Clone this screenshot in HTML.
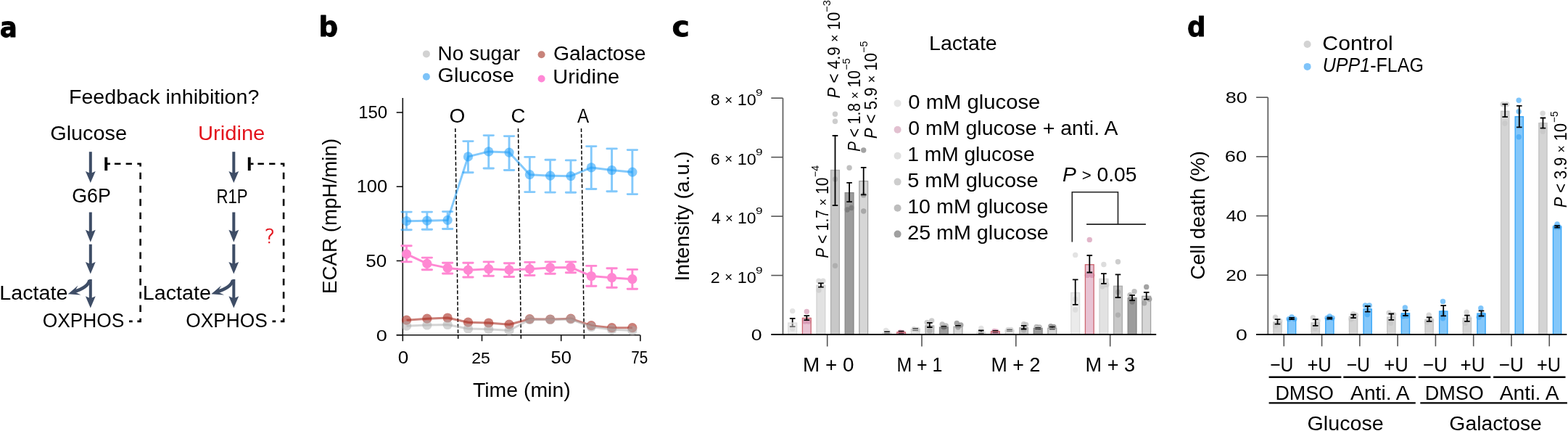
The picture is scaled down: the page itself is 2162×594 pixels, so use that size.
<!DOCTYPE html>
<html><head><meta charset="utf-8"><title>Figure</title>
<style>html,body{margin:0;padding:0;background:#fff;overflow:hidden;} svg{display:block;}
svg.iso *{visibility:hidden} svg.iso .tgt, svg.iso .tgt *{visibility:visible}</style></head>
<body><svg id="fig" width="2162" height="594" viewBox="0 0 2162 594">
<rect width="2162" height="594" fill="#fff"/>
<text id="la" transform="translate(-0.21,50.60) scale(0.9158,1)" font-family="'DejaVu Sans', sans-serif" font-size="39" font-weight="bold" font-style="normal" fill="#000" stroke="#000" stroke-width="0.8" stroke-linejoin="round">a</text>
<text id="lb" transform="translate(439.51,50.30) scale(1.0063,1)" font-family="'DejaVu Sans', sans-serif" font-size="37" font-weight="bold" font-style="normal" fill="#000" stroke="#000" stroke-width="0.8" stroke-linejoin="round">b</text>
<text id="lc" transform="translate(926.40,50.40) scale(1.0525,1)" font-family="'DejaVu Sans', sans-serif" font-size="39" font-weight="bold" font-style="normal" fill="#000" stroke="#000" stroke-width="0.8" stroke-linejoin="round">c</text>
<text id="ld" transform="translate(1637.03,50.30) scale(0.9672,1)" font-family="'DejaVu Sans', sans-serif" font-size="37" font-weight="bold" font-style="normal" fill="#000" stroke="#000" stroke-width="0.8" stroke-linejoin="round">d</text>
<text id="fb" transform="translate(94.94,142.50) scale(1.0220,1)" font-family="'Liberation Sans', Arial, sans-serif" font-size="28" font-weight="normal" font-style="normal" fill="#000">Feedback inhibition?</text>
<text id="ga" transform="translate(69.16,193.30) scale(1.0320,1)" font-family="'Liberation Sans', Arial, sans-serif" font-size="28" font-weight="normal" font-style="normal" fill="#000">Glucose</text>
<text id="ua" transform="translate(272.95,193.30) scale(1.0419,1)" font-family="'Liberation Sans', Arial, sans-serif" font-size="28" font-weight="normal" font-style="normal" fill="#e3141d">Uridine</text>
<text id="g6p" transform="translate(99.23,279.40) scale(0.9565,1)" font-family="'Liberation Sans', Arial, sans-serif" font-size="28" font-weight="normal" font-style="normal" fill="#000">G6P</text>
<text id="r1p" transform="translate(298.43,279.70) scale(0.7924,1)" font-family="'Liberation Sans', Arial, sans-serif" font-size="28" font-weight="normal" font-style="normal" fill="#000">R1P</text>
<text id="lac1" transform="translate(-0.78,412.90) scale(1.0253,1)" font-family="'Liberation Sans', Arial, sans-serif" font-size="28" font-weight="normal" font-style="normal" fill="#000">Lactate</text>
<text id="lac2" transform="translate(196.74,412.90) scale(1.0249,1)" font-family="'Liberation Sans', Arial, sans-serif" font-size="28" font-weight="normal" font-style="normal" fill="#000">Lactate</text>
<text id="ox1" transform="translate(58.69,451.40) scale(0.9402,1)" font-family="'Liberation Sans', Arial, sans-serif" font-size="28" font-weight="normal" font-style="normal" fill="#000">OXPHOS</text>
<text id="ox2" transform="translate(256.17,451.40) scale(0.9402,1)" font-family="'Liberation Sans', Arial, sans-serif" font-size="28" font-weight="normal" font-style="normal" fill="#000">OXPHOS</text>
<text id="q" transform="translate(364.72,334.60) scale(1.0021,1)" font-family="'DejaVu Sans', sans-serif" font-size="27" font-weight="200" font-style="normal" fill="#e3141d" stroke="#e3141d" stroke-width="0.7">?</text>
<rect x="122.80" y="209.20" width="4.0" height="30.20" fill="#3e4d66"/>
<polygon points="124.80,252.10 117.90,235.90 124.80,238.90 131.70,235.90" fill="#3e4d66"/>
<rect x="122.80" y="292.50" width="4.0" height="27.80" fill="#3e4d66"/>
<polygon points="124.80,333.70 117.90,316.80 124.80,319.80 131.70,316.80" fill="#3e4d66"/>
<rect x="122.80" y="336.70" width="4.0" height="27.70" fill="#3e4d66"/>
<polygon points="124.80,377.50 117.90,360.90 124.80,363.90 131.70,360.90" fill="#3e4d66"/>
<rect x="122.80" y="384.90" width="4.0" height="26.90" fill="#3e4d66"/>
<polygon points="124.80,424.50 117.90,408.30 124.80,411.30 131.70,408.30" fill="#3e4d66"/>
<path d="M123.60,386 C121.80,394 112.80,399 100.80,402.5" fill="none" stroke="#3e4d66" stroke-width="4.6"/>
<polygon points="93.80,405.20 107.50,393.60 102.80,402.30 111.60,406.50" fill="#3e4d66"/>
<rect x="144.30" y="216.7" width="3.9" height="18.4" fill="#000"/>
<line x1="148.00" y1="225.80" x2="152.00" y2="225.80" stroke="#000" stroke-width="2.6" stroke-linecap="butt"/>
<path d="M157.90,225.8 H166.40 M173.60,225.8 H181.90 M189.30,225.8 H193.60 V229.5 M193.60,237.80 V247.10 M193.60,256.08 V265.38 M193.60,274.36 V283.66 M193.60,292.64 V301.94 M193.60,310.92 V320.22 M193.60,329.20 V338.50 M193.60,347.48 V356.78 M193.60,365.76 V375.06 M193.60,384.04 V393.34 M193.60,402.32 V411.62 M193.60,420.60 V429.90 M193.60,438.7 V442.9 H189.40 M178.00,442.9 H182.70" fill="none" stroke="#000" stroke-width="2.6" stroke-linejoin="miter"/>
<rect x="320.30" y="209.20" width="4.0" height="30.20" fill="#3e4d66"/>
<polygon points="322.30,252.10 315.40,235.90 322.30,238.90 329.20,235.90" fill="#3e4d66"/>
<rect x="320.30" y="292.50" width="4.0" height="27.80" fill="#3e4d66"/>
<polygon points="322.30,333.70 315.40,316.80 322.30,319.80 329.20,316.80" fill="#3e4d66"/>
<rect x="320.30" y="336.70" width="4.0" height="27.70" fill="#3e4d66"/>
<polygon points="322.30,377.50 315.40,360.90 322.30,363.90 329.20,360.90" fill="#3e4d66"/>
<rect x="320.30" y="384.90" width="4.0" height="26.90" fill="#3e4d66"/>
<polygon points="322.30,424.50 315.40,408.30 322.30,411.30 329.20,408.30" fill="#3e4d66"/>
<path d="M321.10,386 C319.30,394 310.30,399 298.30,402.5" fill="none" stroke="#3e4d66" stroke-width="4.6"/>
<polygon points="291.30,405.20 305.00,393.60 300.30,402.30 309.10,406.50" fill="#3e4d66"/>
<rect x="341.80" y="216.7" width="3.9" height="18.4" fill="#000"/>
<line x1="345.50" y1="225.80" x2="349.50" y2="225.80" stroke="#000" stroke-width="2.6" stroke-linecap="butt"/>
<path d="M355.40,225.8 H363.90 M371.10,225.8 H379.40 M386.80,225.8 H391.10 V229.5 M391.10,237.80 V247.10 M391.10,256.08 V265.38 M391.10,274.36 V283.66 M391.10,292.64 V301.94 M391.10,310.92 V320.22 M391.10,329.20 V338.50 M391.10,347.48 V356.78 M391.10,365.76 V375.06 M391.10,384.04 V393.34 M391.10,402.32 V411.62 M391.10,420.60 V429.90 M391.10,438.7 V442.9 H386.90 M375.50,442.9 H380.20" fill="none" stroke="#000" stroke-width="2.6" stroke-linejoin="miter"/>
<line x1="555.30" y1="135.00" x2="555.30" y2="461.70" stroke="#111" stroke-width="1.6" stroke-linecap="butt"/>
<line x1="546.70" y1="461.70" x2="882.60" y2="461.70" stroke="#111" stroke-width="1.6" stroke-linecap="butt"/>
<line x1="546.70" y1="154.99" x2="555.30" y2="154.99" stroke="#111" stroke-width="1.6" stroke-linecap="butt"/>
<line x1="546.70" y1="257.23" x2="555.30" y2="257.23" stroke="#111" stroke-width="1.6" stroke-linecap="butt"/>
<line x1="546.70" y1="359.46" x2="555.30" y2="359.46" stroke="#111" stroke-width="1.6" stroke-linecap="butt"/>
<line x1="546.70" y1="461.70" x2="555.30" y2="461.70" stroke="#111" stroke-width="1.6" stroke-linecap="butt"/>
<line x1="555.30" y1="461.70" x2="555.30" y2="470.20" stroke="#111" stroke-width="1.6" stroke-linecap="butt"/>
<line x1="664.50" y1="461.70" x2="664.50" y2="470.20" stroke="#111" stroke-width="1.6" stroke-linecap="butt"/>
<line x1="773.70" y1="461.70" x2="773.70" y2="470.20" stroke="#111" stroke-width="1.6" stroke-linecap="butt"/>
<line x1="882.90" y1="461.70" x2="882.90" y2="470.20" stroke="#111" stroke-width="1.6" stroke-linecap="butt"/>
<text id="b150" transform="translate(494.13,163.20) scale(1.0448,1)" font-family="'Liberation Sans', Arial, sans-serif" font-size="23" font-weight="normal" font-style="normal" fill="#000">150</text>
<text id="b100" transform="translate(491.66,265.40) scale(1.1068,1)" font-family="'Liberation Sans', Arial, sans-serif" font-size="23" font-weight="normal" font-style="normal" fill="#000">100</text>
<text id="b50" transform="translate(504.34,367.70) scale(1.1318,1)" font-family="'Liberation Sans', Arial, sans-serif" font-size="23" font-weight="normal" font-style="normal" fill="#000">50</text>
<text id="b0" transform="translate(518.82,469.90) scale(1.1818,1)" font-family="'Liberation Sans', Arial, sans-serif" font-size="23" font-weight="normal" font-style="normal" fill="#000">0</text>
<text id="bx0" transform="translate(548.66,501.10) scale(1.1356,1)" font-family="'Liberation Sans', Arial, sans-serif" font-size="23" font-weight="normal" font-style="normal" fill="#000">0</text>
<text id="bx25" transform="translate(650.14,501.10) scale(1.0050,1)" font-family="'Liberation Sans', Arial, sans-serif" font-size="23" font-weight="normal" font-style="normal" fill="#000">25</text>
<text id="bx50" transform="translate(759.59,501.10) scale(1.1113,1)" font-family="'Liberation Sans', Arial, sans-serif" font-size="23" font-weight="normal" font-style="normal" fill="#000">50</text>
<text id="bx75" transform="translate(870.30,501.10) scale(0.8997,1)" font-family="'Liberation Sans', Arial, sans-serif" font-size="23" font-weight="normal" font-style="normal" fill="#000">75</text>
<text id="ecar" transform="translate(464.00,404.98) rotate(-90) scale(0.9906,1)" font-family="'Liberation Sans', Arial, sans-serif" font-size="28" font-weight="normal" font-style="normal" fill="#000">ECAR (mpH/min)</text>
<text id="time" transform="translate(651.98,546.70) scale(1.0154,1)" font-family="'Liberation Sans', Arial, sans-serif" font-size="28" font-weight="normal" font-style="normal" fill="#000">Time (min)</text>
<text id="bO" transform="translate(619.46,169.00) scale(1.0025,1)" font-family="'Liberation Sans', Arial, sans-serif" font-size="28" font-weight="normal" font-style="normal" fill="#000">O</text>
<text id="bC" transform="translate(704.44,169.00) scale(0.9863,1)" font-family="'Liberation Sans', Arial, sans-serif" font-size="28" font-weight="normal" font-style="normal" fill="#000">C</text>
<text id="bA" transform="translate(796.00,169.00) scale(0.8654,1)" font-family="'Liberation Sans', Arial, sans-serif" font-size="28" font-weight="normal" font-style="normal" fill="#000">A</text>
<circle cx="587.90" cy="74.40" r="5" fill="#d2d2d2"/>
<circle cx="587.90" cy="105.70" r="5" fill="#7dc3f8"/>
<circle cx="746.60" cy="75.20" r="5" fill="#c8837a"/>
<circle cx="746.60" cy="108.50" r="5" fill="#ff88d6"/>
<text id="lns" transform="translate(603.60,82.50) scale(0.9983,1)" font-family="'Liberation Sans', Arial, sans-serif" font-size="28" font-weight="normal" font-style="normal" fill="#000">No sugar</text>
<text id="lgl" transform="translate(603.55,112.60) scale(1.0260,1)" font-family="'Liberation Sans', Arial, sans-serif" font-size="28" font-weight="normal" font-style="normal" fill="#000">Glucose</text>
<text id="lga" transform="translate(762.89,82.50) scale(1.0129,1)" font-family="'Liberation Sans', Arial, sans-serif" font-size="28" font-weight="normal" font-style="normal" fill="#000">Galactose</text>
<text id="lur" transform="translate(762.30,115.30) scale(1.0358,1)" font-family="'Liberation Sans', Arial, sans-serif" font-size="28" font-weight="normal" font-style="normal" fill="#000">Uridine</text>
<line x1="627.80" y1="177.00" x2="631.70" y2="468.00" stroke="#000" stroke-width="1.5" stroke-dasharray="5,2.7" stroke-linecap="butt"/>
<line x1="714.50" y1="177.00" x2="718.40" y2="468.00" stroke="#000" stroke-width="1.5" stroke-dasharray="5,2.7" stroke-linecap="butt"/>
<line x1="801.50" y1="177.00" x2="805.40" y2="468.00" stroke="#000" stroke-width="1.5" stroke-dasharray="5,2.7" stroke-linecap="butt"/>
<polyline points="560.54,441.20 588.85,439.20 617.15,438.00 645.46,444.20 673.76,445.00 702.06,447.20 730.37,439.70 758.67,440.00 786.98,439.20 815.28,448.70 843.59,451.70 871.89,451.70" fill="none" stroke="#a82a1e" stroke-width="3.0" stroke-opacity="0.6" stroke-linejoin="round"/>
<circle cx="560.54" cy="441.20" r="6.6" fill="#a82a1e" fill-opacity="0.6"/>
<circle cx="588.85" cy="439.20" r="6.6" fill="#a82a1e" fill-opacity="0.6"/>
<circle cx="617.15" cy="438.00" r="6.6" fill="#a82a1e" fill-opacity="0.6"/>
<circle cx="645.46" cy="444.20" r="6.6" fill="#a82a1e" fill-opacity="0.6"/>
<circle cx="673.76" cy="445.00" r="6.6" fill="#a82a1e" fill-opacity="0.6"/>
<circle cx="702.06" cy="447.20" r="6.6" fill="#a82a1e" fill-opacity="0.6"/>
<circle cx="730.37" cy="439.70" r="6.6" fill="#a82a1e" fill-opacity="0.6"/>
<circle cx="758.67" cy="440.00" r="6.6" fill="#a82a1e" fill-opacity="0.6"/>
<circle cx="786.98" cy="439.20" r="6.6" fill="#a82a1e" fill-opacity="0.6"/>
<circle cx="815.28" cy="448.70" r="6.6" fill="#a82a1e" fill-opacity="0.6"/>
<circle cx="843.59" cy="451.70" r="6.6" fill="#a82a1e" fill-opacity="0.6"/>
<circle cx="871.89" cy="451.70" r="6.6" fill="#a82a1e" fill-opacity="0.6"/>
<polyline points="560.54,449.20 588.85,448.00 617.15,447.50 645.46,453.00 673.76,453.70 702.06,455.50 730.37,440.50 758.67,440.50 786.98,440.00 815.28,450.50 843.59,454.30 871.89,455.50" fill="none" stroke="#aaaaaa" stroke-width="3.0" stroke-opacity="0.5" stroke-linejoin="round"/>
<circle cx="560.54" cy="449.20" r="6.6" fill="#aaaaaa" fill-opacity="0.5"/>
<circle cx="588.85" cy="448.00" r="6.6" fill="#aaaaaa" fill-opacity="0.5"/>
<circle cx="617.15" cy="447.50" r="6.6" fill="#aaaaaa" fill-opacity="0.5"/>
<circle cx="645.46" cy="453.00" r="6.6" fill="#aaaaaa" fill-opacity="0.5"/>
<circle cx="673.76" cy="453.70" r="6.6" fill="#aaaaaa" fill-opacity="0.5"/>
<circle cx="702.06" cy="455.50" r="6.6" fill="#aaaaaa" fill-opacity="0.5"/>
<circle cx="730.37" cy="440.50" r="6.6" fill="#aaaaaa" fill-opacity="0.5"/>
<circle cx="758.67" cy="440.50" r="6.6" fill="#aaaaaa" fill-opacity="0.5"/>
<circle cx="786.98" cy="440.00" r="6.6" fill="#aaaaaa" fill-opacity="0.5"/>
<circle cx="815.28" cy="450.50" r="6.6" fill="#aaaaaa" fill-opacity="0.5"/>
<circle cx="843.59" cy="454.30" r="6.6" fill="#aaaaaa" fill-opacity="0.5"/>
<circle cx="871.89" cy="455.50" r="6.6" fill="#aaaaaa" fill-opacity="0.5"/>
<polyline points="560.54,304.70 588.85,304.20 617.15,303.40 645.46,215.90 673.76,208.90 702.06,210.10 730.37,240.70 758.67,242.20 786.98,242.70 815.28,230.90 843.59,234.50 871.89,237.20" fill="none" stroke="#1e9cf8" stroke-width="3.0" stroke-opacity="0.55" stroke-linejoin="round"/>
<path d="M553.84,292.10 H567.24 M560.54,292.10 V316.70 M553.84,316.70 H567.24" fill="none" stroke="#1e9cf8" stroke-width="2.9" stroke-opacity="0.55" stroke-linecap="round"/>
<path d="M582.15,292.10 H595.55 M588.85,292.10 V316.20 M582.15,316.20 H595.55" fill="none" stroke="#1e9cf8" stroke-width="2.9" stroke-opacity="0.55" stroke-linecap="round"/>
<path d="M610.45,291.60 H623.85 M617.15,291.60 V315.50 M610.45,315.50 H623.85" fill="none" stroke="#1e9cf8" stroke-width="2.9" stroke-opacity="0.55" stroke-linecap="round"/>
<path d="M638.76,194.60 H652.16 M645.46,194.60 V237.70 M638.76,237.70 H652.16" fill="none" stroke="#1e9cf8" stroke-width="2.9" stroke-opacity="0.55" stroke-linecap="round"/>
<path d="M667.06,186.60 H680.46 M673.76,186.60 V232.00 M667.06,232.00 H680.46" fill="none" stroke="#1e9cf8" stroke-width="2.9" stroke-opacity="0.55" stroke-linecap="round"/>
<path d="M695.36,187.60 H708.76 M702.06,187.60 V234.50 M695.36,234.50 H708.76" fill="none" stroke="#1e9cf8" stroke-width="2.9" stroke-opacity="0.55" stroke-linecap="round"/>
<path d="M723.67,216.40 H737.07 M730.37,216.40 V264.60 M723.67,264.60 H737.07" fill="none" stroke="#1e9cf8" stroke-width="2.9" stroke-opacity="0.55" stroke-linecap="round"/>
<path d="M751.97,220.20 H765.37 M758.67,220.20 V265.10 M751.97,265.10 H765.37" fill="none" stroke="#1e9cf8" stroke-width="2.9" stroke-opacity="0.55" stroke-linecap="round"/>
<path d="M780.28,220.90 H793.68 M786.98,220.90 V265.30 M780.28,265.30 H793.68" fill="none" stroke="#1e9cf8" stroke-width="2.9" stroke-opacity="0.55" stroke-linecap="round"/>
<path d="M808.58,201.60 H821.98 M815.28,201.60 V260.50 M808.58,260.50 H821.98" fill="none" stroke="#1e9cf8" stroke-width="2.9" stroke-opacity="0.55" stroke-linecap="round"/>
<path d="M836.89,204.90 H850.29 M843.59,204.90 V263.80 M836.89,263.80 H850.29" fill="none" stroke="#1e9cf8" stroke-width="2.9" stroke-opacity="0.55" stroke-linecap="round"/>
<path d="M865.19,206.60 H878.59 M871.89,206.60 V267.60 M865.19,267.60 H878.59" fill="none" stroke="#1e9cf8" stroke-width="2.9" stroke-opacity="0.55" stroke-linecap="round"/>
<circle cx="560.54" cy="304.70" r="6.6" fill="#1e9cf8" fill-opacity="0.55"/>
<circle cx="588.85" cy="304.20" r="6.6" fill="#1e9cf8" fill-opacity="0.55"/>
<circle cx="617.15" cy="303.40" r="6.6" fill="#1e9cf8" fill-opacity="0.55"/>
<circle cx="645.46" cy="215.90" r="6.6" fill="#1e9cf8" fill-opacity="0.55"/>
<circle cx="673.76" cy="208.90" r="6.6" fill="#1e9cf8" fill-opacity="0.55"/>
<circle cx="702.06" cy="210.10" r="6.6" fill="#1e9cf8" fill-opacity="0.55"/>
<circle cx="730.37" cy="240.70" r="6.6" fill="#1e9cf8" fill-opacity="0.55"/>
<circle cx="758.67" cy="242.20" r="6.6" fill="#1e9cf8" fill-opacity="0.55"/>
<circle cx="786.98" cy="242.70" r="6.6" fill="#1e9cf8" fill-opacity="0.55"/>
<circle cx="815.28" cy="230.90" r="6.6" fill="#1e9cf8" fill-opacity="0.55"/>
<circle cx="843.59" cy="234.50" r="6.6" fill="#1e9cf8" fill-opacity="0.55"/>
<circle cx="871.89" cy="237.20" r="6.6" fill="#1e9cf8" fill-opacity="0.55"/>
<polyline points="560.54,350.10 588.85,363.40 617.15,369.40 645.46,372.20 673.76,370.70 702.06,371.90 730.37,370.70 758.67,368.90 786.98,368.40 815.28,380.50 843.59,382.70 871.89,384.70" fill="none" stroke="#ff87d2" stroke-width="3.0" stroke-opacity="1.0" stroke-linejoin="round"/>
<path d="M553.84,338.80 H567.24 M560.54,338.80 V360.90 M553.84,360.90 H567.24" fill="none" stroke="#ff87d2" stroke-width="2.9" stroke-opacity="1.0" stroke-linecap="round"/>
<path d="M582.15,355.10 H595.55 M588.85,355.10 V371.70 M582.15,371.70 H595.55" fill="none" stroke="#ff87d2" stroke-width="2.9" stroke-opacity="1.0" stroke-linecap="round"/>
<path d="M610.45,362.20 H623.85 M617.15,362.20 V377.00 M610.45,377.00 H623.85" fill="none" stroke="#ff87d2" stroke-width="2.9" stroke-opacity="1.0" stroke-linecap="round"/>
<path d="M638.76,362.20 H652.16 M645.46,362.20 V382.00 M638.76,382.00 H652.16" fill="none" stroke="#ff87d2" stroke-width="2.9" stroke-opacity="1.0" stroke-linecap="round"/>
<path d="M667.06,360.90 H680.46 M673.76,360.90 V380.20 M667.06,380.20 H680.46" fill="none" stroke="#ff87d2" stroke-width="2.9" stroke-opacity="1.0" stroke-linecap="round"/>
<path d="M695.36,362.70 H708.76 M702.06,362.70 V381.50 M695.36,381.50 H708.76" fill="none" stroke="#ff87d2" stroke-width="2.9" stroke-opacity="1.0" stroke-linecap="round"/>
<path d="M723.67,361.40 H737.07 M730.37,361.40 V379.50 M723.67,379.50 H737.07" fill="none" stroke="#ff87d2" stroke-width="2.9" stroke-opacity="1.0" stroke-linecap="round"/>
<path d="M751.97,360.90 H765.37 M758.67,360.90 V377.20 M751.97,377.20 H765.37" fill="none" stroke="#ff87d2" stroke-width="2.9" stroke-opacity="1.0" stroke-linecap="round"/>
<path d="M780.28,360.90 H793.68 M786.98,360.90 V375.70 M780.28,375.70 H793.68" fill="none" stroke="#ff87d2" stroke-width="2.9" stroke-opacity="1.0" stroke-linecap="round"/>
<path d="M808.58,366.40 H821.98 M815.28,366.40 V394.30 M808.58,394.30 H821.98" fill="none" stroke="#ff87d2" stroke-width="2.9" stroke-opacity="1.0" stroke-linecap="round"/>
<path d="M836.89,369.70 H850.29 M843.59,369.70 V396.30 M836.89,396.30 H850.29" fill="none" stroke="#ff87d2" stroke-width="2.9" stroke-opacity="1.0" stroke-linecap="round"/>
<path d="M865.19,371.40 H878.59 M871.89,371.40 V398.30 M865.19,398.30 H878.59" fill="none" stroke="#ff87d2" stroke-width="2.9" stroke-opacity="1.0" stroke-linecap="round"/>
<circle cx="560.54" cy="350.10" r="6.6" fill="#ff87d2" fill-opacity="1.0"/>
<circle cx="588.85" cy="363.40" r="6.6" fill="#ff87d2" fill-opacity="1.0"/>
<circle cx="617.15" cy="369.40" r="6.6" fill="#ff87d2" fill-opacity="1.0"/>
<circle cx="645.46" cy="372.20" r="6.6" fill="#ff87d2" fill-opacity="1.0"/>
<circle cx="673.76" cy="370.70" r="6.6" fill="#ff87d2" fill-opacity="1.0"/>
<circle cx="702.06" cy="371.90" r="6.6" fill="#ff87d2" fill-opacity="1.0"/>
<circle cx="730.37" cy="370.70" r="6.6" fill="#ff87d2" fill-opacity="1.0"/>
<circle cx="758.67" cy="368.90" r="6.6" fill="#ff87d2" fill-opacity="1.0"/>
<circle cx="786.98" cy="368.40" r="6.6" fill="#ff87d2" fill-opacity="1.0"/>
<circle cx="815.28" cy="380.50" r="6.6" fill="#ff87d2" fill-opacity="1.0"/>
<circle cx="843.59" cy="382.70" r="6.6" fill="#ff87d2" fill-opacity="1.0"/>
<circle cx="871.89" cy="384.70" r="6.6" fill="#ff87d2" fill-opacity="1.0"/>
<line x1="1079.50" y1="135.20" x2="1079.50" y2="461.00" stroke="#555" stroke-width="1.6" stroke-linecap="butt"/>
<line x1="1063.30" y1="135.20" x2="1079.50" y2="135.20" stroke="#555" stroke-width="1.6" stroke-linecap="butt"/>
<line x1="1063.30" y1="216.65" x2="1079.50" y2="216.65" stroke="#555" stroke-width="1.6" stroke-linecap="butt"/>
<line x1="1063.30" y1="298.10" x2="1079.50" y2="298.10" stroke="#555" stroke-width="1.6" stroke-linecap="butt"/>
<line x1="1063.30" y1="379.55" x2="1079.50" y2="379.55" stroke="#555" stroke-width="1.6" stroke-linecap="butt"/>
<line x1="1140.70" y1="461.00" x2="1140.70" y2="477.50" stroke="#555" stroke-width="1.6" stroke-linecap="butt"/>
<line x1="1271.00" y1="461.00" x2="1271.00" y2="477.50" stroke="#555" stroke-width="1.6" stroke-linecap="butt"/>
<line x1="1400.80" y1="461.00" x2="1400.80" y2="477.50" stroke="#555" stroke-width="1.6" stroke-linecap="butt"/>
<line x1="1530.70" y1="461.00" x2="1530.70" y2="477.50" stroke="#555" stroke-width="1.6" stroke-linecap="butt"/>
<text id="c8" transform="translate(979.86,145.30) scale(1.0362,1)" font-family="'Liberation Sans', Arial, sans-serif" font-size="22.5" font-weight="normal" font-style="normal" fill="#000">8 <tspan font-size="18" dy="-1.3">×</tspan><tspan dy="1.3"> 10</tspan></text>
<text id="c8s" transform="translate(1042.07,132.20) scale(1.2720,1)" font-family="'Liberation Sans', Arial, sans-serif" font-size="13.5" font-weight="normal" font-style="normal" fill="#000">9</text>
<text id="c6" transform="translate(979.85,226.75) scale(1.0362,1)" font-family="'Liberation Sans', Arial, sans-serif" font-size="22.5" font-weight="normal" font-style="normal" fill="#000">6 <tspan font-size="18" dy="-1.3">×</tspan><tspan dy="1.3"> 10</tspan></text>
<text id="c6s" transform="translate(1042.07,213.65) scale(1.2720,1)" font-family="'Liberation Sans', Arial, sans-serif" font-size="13.5" font-weight="normal" font-style="normal" fill="#000">9</text>
<text id="c4" transform="translate(980.89,308.20) scale(1.0190,1)" font-family="'Liberation Sans', Arial, sans-serif" font-size="22.5" font-weight="normal" font-style="normal" fill="#000">4 <tspan font-size="18" dy="-1.3">×</tspan><tspan dy="1.3"> 10</tspan></text>
<text id="c4s" transform="translate(1042.07,295.10) scale(1.2720,1)" font-family="'Liberation Sans', Arial, sans-serif" font-size="13.5" font-weight="normal" font-style="normal" fill="#000">9</text>
<text id="c2" transform="translate(979.86,389.65) scale(1.0368,1)" font-family="'Liberation Sans', Arial, sans-serif" font-size="22.5" font-weight="normal" font-style="normal" fill="#000">2 <tspan font-size="18" dy="-1.3">×</tspan><tspan dy="1.3"> 10</tspan></text>
<text id="c2s" transform="translate(1042.07,376.55) scale(1.2720,1)" font-family="'Liberation Sans', Arial, sans-serif" font-size="13.5" font-weight="normal" font-style="normal" fill="#000">9</text>
<text id="c0" transform="translate(1035.71,469.00) scale(1.1895,1)" font-family="'Liberation Sans', Arial, sans-serif" font-size="22.5" font-weight="normal" font-style="normal" fill="#000">0</text>
<text id="int" transform="translate(950.10,387.62) rotate(-90) scale(1.0094,1)" font-family="'Liberation Sans', Arial, sans-serif" font-size="28" font-weight="normal" font-style="normal" fill="#000">Intensity (a.u.)</text>
<text id="clac" transform="translate(1281.06,68.80) scale(1.0203,1)" font-family="'Liberation Sans', Arial, sans-serif" font-size="28" font-weight="normal" font-style="normal" fill="#000">Lactate</text>
<circle cx="1237.60" cy="142.40" r="5" fill="#e6e6e6"/>
<text id="cl0" transform="translate(1252.23,150.00) scale(1.0455,1)" font-family="'Liberation Sans', Arial, sans-serif" font-size="28" font-weight="normal" font-style="normal" fill="#000">0 mM glucose</text>
<circle cx="1237.60" cy="178.70" r="5" fill="#e2c0d0"/>
<text id="cl1" transform="translate(1252.28,186.20) scale(1.0183,1)" font-family="'Liberation Sans', Arial, sans-serif" font-size="28" font-weight="normal" font-style="normal" fill="#000">0 mM glucose + anti. A</text>
<circle cx="1237.60" cy="214.80" r="5" fill="#e0e0e0"/>
<text id="cl2" transform="translate(1251.18,222.30) scale(1.0069,1)" font-family="'Liberation Sans', Arial, sans-serif" font-size="28" font-weight="normal" font-style="normal" fill="#000">1 mM glucose</text>
<circle cx="1237.60" cy="250.60" r="5" fill="#cdcdcd"/>
<text id="cl3" transform="translate(1251.17,258.20) scale(1.0359,1)" font-family="'Liberation Sans', Arial, sans-serif" font-size="28" font-weight="normal" font-style="normal" fill="#000">5 mM glucose</text>
<circle cx="1237.60" cy="286.80" r="5" fill="#bdbdbd"/>
<text id="cl4" transform="translate(1251.17,294.10) scale(1.0238,1)" font-family="'Liberation Sans', Arial, sans-serif" font-size="28" font-weight="normal" font-style="normal" fill="#000">10 mM glucose</text>
<circle cx="1237.60" cy="322.60" r="5" fill="#a0a0a0"/>
<text id="cl5" transform="translate(1251.17,330.20) scale(1.0255,1)" font-family="'Liberation Sans', Arial, sans-serif" font-size="28" font-weight="normal" font-style="normal" fill="#000">25 mM glucose</text>
<text id="cm0" transform="translate(1107.11,511.70) scale(0.9944,1)" font-family="'Liberation Sans', Arial, sans-serif" font-size="28" font-weight="normal" font-style="normal" fill="#000">M + 0</text>
<text id="cm1" transform="translate(1236.42,511.70) scale(0.8897,1)" font-family="'Liberation Sans', Arial, sans-serif" font-size="28" font-weight="normal" font-style="normal" fill="#000">M + 1</text>
<text id="cm2" transform="translate(1366.50,511.70) scale(0.9585,1)" font-family="'Liberation Sans', Arial, sans-serif" font-size="28" font-weight="normal" font-style="normal" fill="#000">M + 2</text>
<text id="cm3" transform="translate(1496.59,511.70) scale(0.9676,1)" font-family="'Liberation Sans', Arial, sans-serif" font-size="28" font-weight="normal" font-style="normal" fill="#000">M + 3</text>
<circle cx="1092.70" cy="428.60" r="3.7" fill="#dcdcdc" fill-opacity="0.8"/>
<circle cx="1092.70" cy="453.00" r="3.7" fill="#dcdcdc" fill-opacity="0.8"/>
<path d="M1088.90,438.90 H1096.50 M1092.70,438.90 V450.10 M1088.90,450.10 H1096.50" fill="none" stroke="#000" stroke-width="1.8"/>
<rect x="1086.80" y="445.10" width="11.80" height="15.90" fill="#d7d7d7" fill-opacity="0.5" stroke="#dcdcdc" stroke-width="1.3"/>
<circle cx="1112.30" cy="429.40" r="3.7" fill="#d9a3bb" fill-opacity="0.8"/>
<circle cx="1109.80" cy="443.00" r="3.7" fill="#d9a3bb" fill-opacity="0.8"/>
<circle cx="1114.80" cy="443.00" r="3.7" fill="#d9a3bb" fill-opacity="0.8"/>
<rect x="1106.40" y="438.40" width="11.80" height="22.60" fill="#d187a7" fill-opacity="0.5" stroke="#cc6670" stroke-width="1.3"/>
<path d="M1108.50,435.10 H1116.10 M1112.30,435.10 V441.20 M1108.50,441.20 H1116.10" fill="none" stroke="#000" stroke-width="1.8"/>
<circle cx="1128.90" cy="387.20" r="3.7" fill="#d4d4d4" fill-opacity="0.8"/>
<circle cx="1134.90" cy="387.20" r="3.7" fill="#d4d4d4" fill-opacity="0.8"/>
<circle cx="1128.90" cy="400.00" r="3.7" fill="#d4d4d4" fill-opacity="0.8"/>
<rect x="1126.00" y="393.20" width="11.80" height="67.80" fill="#c5c5c5" fill-opacity="0.5" stroke="#d2d2d2" stroke-width="1.3"/>
<path d="M1128.10,390.30 H1135.70 M1131.90,390.30 V395.70 M1128.10,395.70 H1135.70" fill="none" stroke="#000" stroke-width="1.8"/>
<circle cx="1151.50" cy="157.20" r="3.7" fill="#c0c0c0" fill-opacity="0.8"/>
<circle cx="1151.50" cy="167.20" r="3.7" fill="#c0c0c0" fill-opacity="0.8"/>
<circle cx="1151.50" cy="247.00" r="3.7" fill="#c0c0c0" fill-opacity="0.8"/>
<circle cx="1151.50" cy="366.30" r="3.7" fill="#c0c0c0" fill-opacity="0.8"/>
<rect x="1145.60" y="234.50" width="11.80" height="226.50" fill="#919191" fill-opacity="0.5" stroke="#aeaeae" stroke-width="1.3"/>
<path d="M1147.70,187.00 H1155.30 M1151.50,187.00 V283.20 M1147.70,283.20 H1155.30" fill="none" stroke="#000" stroke-width="1.8"/>
<circle cx="1171.10" cy="231.30" r="3.7" fill="#b0b0b0" fill-opacity="0.8"/>
<circle cx="1168.10" cy="289.00" r="3.7" fill="#b0b0b0" fill-opacity="0.8"/>
<circle cx="1174.10" cy="286.50" r="3.7" fill="#b0b0b0" fill-opacity="0.8"/>
<rect x="1165.20" y="265.60" width="11.80" height="195.40" fill="#393939" fill-opacity="0.5" stroke="#888888" stroke-width="1.3"/>
<path d="M1167.30,251.80 H1174.90 M1171.10,251.80 V278.20 M1167.30,278.20 H1174.90" fill="none" stroke="#000" stroke-width="1.8"/>
<circle cx="1190.70" cy="207.00" r="3.7" fill="#8c8c8c" fill-opacity="0.8"/>
<circle cx="1190.70" cy="268.90" r="3.7" fill="#8c8c8c" fill-opacity="0.8"/>
<circle cx="1190.70" cy="291.00" r="3.7" fill="#8c8c8c" fill-opacity="0.8"/>
<rect x="1184.80" y="249.60" width="11.80" height="211.40" fill="#adadad" fill-opacity="0.5" stroke="#a2a2a2" stroke-width="1.3"/>
<path d="M1186.90,230.80 H1194.50 M1190.70,230.80 V268.40 M1186.90,268.40 H1194.50" fill="none" stroke="#000" stroke-width="1.8"/>
<circle cx="1221.60" cy="455.40" r="3.7" fill="#dcdcdc" fill-opacity="0.8"/>
<circle cx="1224.50" cy="458.00" r="3.7" fill="#dcdcdc" fill-opacity="0.8"/>
<path d="M1219.20,457.50 H1226.80 M1223.00,457.50 V459.80 M1219.20,459.80 H1226.80" fill="none" stroke="#000" stroke-width="1.8"/>
<rect x="1217.10" y="458.60" width="11.80" height="2.40" fill="#d7d7d7" fill-opacity="0.5" stroke="#dcdcdc" stroke-width="1.3"/>
<circle cx="1241.10" cy="458.00" r="3.7" fill="#d9a3bb" fill-opacity="0.8"/>
<circle cx="1244.10" cy="458.50" r="3.7" fill="#d9a3bb" fill-opacity="0.8"/>
<path d="M1238.80,456.60 H1246.40 M1242.60,456.60 V459.20 M1238.80,459.20 H1246.40" fill="none" stroke="#000" stroke-width="1.8"/>
<rect x="1236.70" y="457.90" width="11.80" height="3.10" fill="#d187a7" fill-opacity="0.5" stroke="#cc6670" stroke-width="1.3"/>
<circle cx="1260.20" cy="453.50" r="3.7" fill="#d4d4d4" fill-opacity="0.8"/>
<circle cx="1265.20" cy="454.50" r="3.7" fill="#d4d4d4" fill-opacity="0.8"/>
<path d="M1258.40,453.20 H1266.00 M1262.20,453.20 V454.80 M1258.40,454.80 H1266.00" fill="none" stroke="#000" stroke-width="1.8"/>
<rect x="1256.30" y="453.90" width="11.80" height="7.10" fill="#c5c5c5" fill-opacity="0.5" stroke="#d2d2d2" stroke-width="1.3"/>
<circle cx="1278.20" cy="444.50" r="3.7" fill="#c0c0c0" fill-opacity="0.8"/>
<circle cx="1284.70" cy="442.00" r="3.7" fill="#c0c0c0" fill-opacity="0.8"/>
<circle cx="1281.80" cy="456.00" r="3.7" fill="#c0c0c0" fill-opacity="0.8"/>
<rect x="1275.90" y="448.90" width="11.80" height="12.10" fill="#919191" fill-opacity="0.5" stroke="#aeaeae" stroke-width="1.3"/>
<path d="M1278.00,444.90 H1285.60 M1281.80,444.90 V451.00 M1278.00,451.00 H1285.60" fill="none" stroke="#000" stroke-width="1.8"/>
<circle cx="1299.20" cy="447.00" r="3.7" fill="#b0b0b0" fill-opacity="0.8"/>
<circle cx="1304.20" cy="449.00" r="3.7" fill="#b0b0b0" fill-opacity="0.8"/>
<circle cx="1301.40" cy="451.00" r="3.7" fill="#b0b0b0" fill-opacity="0.8"/>
<path d="M1297.60,449.80 H1305.20 M1301.40,449.80 V451.40 M1297.60,451.40 H1305.20" fill="none" stroke="#000" stroke-width="1.8"/>
<rect x="1295.50" y="451.00" width="11.80" height="10.00" fill="#393939" fill-opacity="0.5" stroke="#888888" stroke-width="1.3"/>
<circle cx="1319.30" cy="445.50" r="3.7" fill="#8c8c8c" fill-opacity="0.8"/>
<circle cx="1324.80" cy="448.00" r="3.7" fill="#8c8c8c" fill-opacity="0.8"/>
<circle cx="1321.00" cy="451.00" r="3.7" fill="#8c8c8c" fill-opacity="0.8"/>
<path d="M1317.20,448.80 H1324.80 M1321.00,448.80 V450.60 M1317.20,450.60 H1324.80" fill="none" stroke="#000" stroke-width="1.8"/>
<rect x="1315.10" y="450.30" width="11.80" height="10.70" fill="#adadad" fill-opacity="0.5" stroke="#a2a2a2" stroke-width="1.3"/>
<circle cx="1352.80" cy="452.50" r="3.7" fill="#dcdcdc" fill-opacity="0.8"/>
<circle cx="1352.80" cy="458.50" r="3.7" fill="#dcdcdc" fill-opacity="0.8"/>
<path d="M1349.00,455.50 H1356.60 M1352.80,455.50 V459.20 M1349.00,459.20 H1356.60" fill="none" stroke="#000" stroke-width="1.8"/>
<rect x="1346.90" y="457.80" width="11.80" height="3.20" fill="#d7d7d7" fill-opacity="0.5" stroke="#dcdcdc" stroke-width="1.3"/>
<circle cx="1370.90" cy="456.50" r="3.7" fill="#d9a3bb" fill-opacity="0.8"/>
<circle cx="1373.90" cy="457.00" r="3.7" fill="#d9a3bb" fill-opacity="0.8"/>
<path d="M1368.60,456.00 H1376.20 M1372.40,456.00 V458.00 M1368.60,458.00 H1376.20" fill="none" stroke="#000" stroke-width="1.8"/>
<rect x="1366.50" y="456.90" width="11.80" height="4.10" fill="#d187a7" fill-opacity="0.5" stroke="#cc6670" stroke-width="1.3"/>
<circle cx="1390.00" cy="454.50" r="3.7" fill="#d4d4d4" fill-opacity="0.8"/>
<circle cx="1394.00" cy="454.50" r="3.7" fill="#d4d4d4" fill-opacity="0.8"/>
<path d="M1388.20,454.60 H1395.80 M1392.00,454.60 V455.80 M1388.20,455.80 H1395.80" fill="none" stroke="#000" stroke-width="1.8"/>
<rect x="1386.10" y="455.20" width="11.80" height="5.80" fill="#c5c5c5" fill-opacity="0.5" stroke="#d2d2d2" stroke-width="1.3"/>
<circle cx="1411.60" cy="446.60" r="3.7" fill="#c0c0c0" fill-opacity="0.8"/>
<circle cx="1414.60" cy="447.50" r="3.7" fill="#c0c0c0" fill-opacity="0.8"/>
<circle cx="1411.60" cy="455.00" r="3.7" fill="#c0c0c0" fill-opacity="0.8"/>
<rect x="1405.70" y="451.70" width="11.80" height="9.30" fill="#919191" fill-opacity="0.5" stroke="#aeaeae" stroke-width="1.3"/>
<path d="M1407.80,448.80 H1415.40 M1411.60,448.80 V453.50 M1407.80,453.50 H1415.40" fill="none" stroke="#000" stroke-width="1.8"/>
<circle cx="1429.20" cy="450.50" r="3.7" fill="#b0b0b0" fill-opacity="0.8"/>
<circle cx="1433.20" cy="451.00" r="3.7" fill="#b0b0b0" fill-opacity="0.8"/>
<path d="M1427.40,451.80 H1435.00 M1431.20,451.80 V453.20 M1427.40,453.20 H1435.00" fill="none" stroke="#000" stroke-width="1.8"/>
<rect x="1425.30" y="452.50" width="11.80" height="8.50" fill="#393939" fill-opacity="0.5" stroke="#888888" stroke-width="1.3"/>
<circle cx="1448.80" cy="449.80" r="3.7" fill="#8c8c8c" fill-opacity="0.8"/>
<circle cx="1452.80" cy="450.50" r="3.7" fill="#8c8c8c" fill-opacity="0.8"/>
<path d="M1447.00,450.60 H1454.60 M1450.80,450.60 V453.50 M1447.00,453.50 H1454.60" fill="none" stroke="#000" stroke-width="1.8"/>
<rect x="1444.90" y="452.30" width="11.80" height="8.70" fill="#adadad" fill-opacity="0.5" stroke="#a2a2a2" stroke-width="1.3"/>
<circle cx="1482.70" cy="351.40" r="3.7" fill="#dcdcdc" fill-opacity="0.8"/>
<circle cx="1482.70" cy="412.20" r="3.7" fill="#dcdcdc" fill-opacity="0.8"/>
<circle cx="1482.70" cy="427.10" r="3.7" fill="#dcdcdc" fill-opacity="0.8"/>
<rect x="1476.80" y="403.50" width="11.80" height="57.50" fill="#d7d7d7" fill-opacity="0.5" stroke="#dcdcdc" stroke-width="1.3"/>
<path d="M1478.90,385.30 H1486.50 M1482.70,385.30 V419.90 M1478.90,419.90 H1486.50" fill="none" stroke="#000" stroke-width="1.8"/>
<circle cx="1502.30" cy="330.40" r="3.7" fill="#d9a3bb" fill-opacity="0.8"/>
<circle cx="1499.30" cy="379.40" r="3.7" fill="#d9a3bb" fill-opacity="0.8"/>
<circle cx="1505.80" cy="379.40" r="3.7" fill="#d9a3bb" fill-opacity="0.8"/>
<rect x="1496.40" y="364.70" width="11.80" height="96.30" fill="#d187a7" fill-opacity="0.5" stroke="#cc6670" stroke-width="1.3"/>
<path d="M1498.50,352.00 H1506.10 M1502.30,352.00 V375.50 M1498.50,375.50 H1506.10" fill="none" stroke="#000" stroke-width="1.8"/>
<circle cx="1521.90" cy="364.50" r="3.7" fill="#d4d4d4" fill-opacity="0.8"/>
<circle cx="1519.90" cy="394.70" r="3.7" fill="#d4d4d4" fill-opacity="0.8"/>
<circle cx="1525.90" cy="392.50" r="3.7" fill="#d4d4d4" fill-opacity="0.8"/>
<rect x="1516.00" y="384.40" width="11.80" height="76.60" fill="#c5c5c5" fill-opacity="0.5" stroke="#d2d2d2" stroke-width="1.3"/>
<path d="M1518.10,377.20 H1525.70 M1521.90,377.20 V390.80 M1518.10,390.80 H1525.70" fill="none" stroke="#000" stroke-width="1.8"/>
<circle cx="1541.50" cy="360.80" r="3.7" fill="#c0c0c0" fill-opacity="0.8"/>
<circle cx="1541.50" cy="402.40" r="3.7" fill="#c0c0c0" fill-opacity="0.8"/>
<circle cx="1541.50" cy="434.10" r="3.7" fill="#c0c0c0" fill-opacity="0.8"/>
<rect x="1535.60" y="394.30" width="11.80" height="66.70" fill="#919191" fill-opacity="0.5" stroke="#aeaeae" stroke-width="1.3"/>
<path d="M1537.70,378.30 H1545.30 M1541.50,378.30 V410.00 M1537.70,410.00 H1545.30" fill="none" stroke="#000" stroke-width="1.8"/>
<circle cx="1564.10" cy="401.70" r="3.7" fill="#b0b0b0" fill-opacity="0.8"/>
<circle cx="1558.10" cy="406.80" r="3.7" fill="#b0b0b0" fill-opacity="0.8"/>
<circle cx="1561.10" cy="416.00" r="3.7" fill="#b0b0b0" fill-opacity="0.8"/>
<rect x="1555.20" y="410.50" width="11.80" height="50.50" fill="#393939" fill-opacity="0.5" stroke="#888888" stroke-width="1.3"/>
<path d="M1557.30,406.80 H1564.90 M1561.10,406.80 V414.00 M1557.30,414.00 H1564.90" fill="none" stroke="#000" stroke-width="1.8"/>
<circle cx="1580.70" cy="395.40" r="3.7" fill="#8c8c8c" fill-opacity="0.8"/>
<circle cx="1577.70" cy="417.70" r="3.7" fill="#8c8c8c" fill-opacity="0.8"/>
<circle cx="1584.70" cy="412.20" r="3.7" fill="#8c8c8c" fill-opacity="0.8"/>
<rect x="1574.80" y="408.30" width="11.80" height="52.70" fill="#adadad" fill-opacity="0.5" stroke="#a2a2a2" stroke-width="1.3"/>
<path d="M1576.90,402.80 H1584.50 M1580.70,402.80 V412.70 M1576.90,412.70 H1584.50" fill="none" stroke="#000" stroke-width="1.8"/>
<line x1="1063.30" y1="461.00" x2="1594.20" y2="461.00" stroke="#000" stroke-width="2.0" stroke-linecap="butt"/>
<polyline points="1478.30,333.40 1478.30,264.70 1541.50,264.70 1541.50,309.10" fill="none" stroke="#222" stroke-width="1.6" stroke-linejoin="miter"/>
<line x1="1498.10" y1="309.10" x2="1579.90" y2="309.10" stroke="#222" stroke-width="1.6" stroke-linecap="butt"/>
<text id="pgt" transform="translate(1464.97,250.30) scale(1.0102,1)" font-family="'Liberation Sans', Arial, sans-serif" font-size="28" font-weight="normal" font-style="normal" fill="#000"><tspan font-style="italic">P</tspan> <tspan font-size="22" dy="-1.5">&gt;</tspan><tspan dy="1.5"> 0.05</tspan></text>
<text id="p17" transform="translate(1142.30,355.76) rotate(-90) scale(0.8863,1)" font-family="'Liberation Sans', Arial, sans-serif" font-size="23.5" font-weight="normal" font-style="normal" fill="#000"><tspan font-style="italic">P</tspan> &lt; 1.7 <tspan font-size="19" dy="-1.2">×</tspan><tspan dy="1.2"> 10</tspan></text>
<text id="p17s" transform="translate(1128.80,244.00) rotate(-90) scale(0.9399,1)" font-family="'Liberation Sans', Arial, sans-serif" font-size="15" font-weight="normal" font-style="normal" fill="#000">−4</text>
<text id="p49" transform="translate(1157.80,135.40) rotate(-90) scale(0.9467,1)" font-family="'Liberation Sans', Arial, sans-serif" font-size="23.5" font-weight="normal" font-style="normal" fill="#000"><tspan font-style="italic">P</tspan> &lt; 4.9 <tspan font-size="19" dy="-1.2">×</tspan><tspan dy="1.2"> 10</tspan></text>
<text id="p49s" transform="translate(1144.80,16.85) rotate(-90) scale(0.9735,1)" font-family="'Liberation Sans', Arial, sans-serif" font-size="15" font-weight="normal" font-style="normal" fill="#000">−3</text>
<text id="p18" transform="translate(1185.70,209.11) rotate(-90) scale(0.8935,1)" font-family="'Liberation Sans', Arial, sans-serif" font-size="23.5" font-weight="normal" font-style="normal" fill="#000"><tspan font-style="italic">P</tspan> &lt; 1.8 <tspan font-size="19" dy="-1.2">×</tspan><tspan dy="1.2"> 10</tspan></text>
<text id="p18s" transform="translate(1172.40,96.42) rotate(-90) scale(0.9402,1)" font-family="'Liberation Sans', Arial, sans-serif" font-size="15" font-weight="normal" font-style="normal" fill="#000">−5</text>
<text id="p59" transform="translate(1209.10,191.25) rotate(-90) scale(0.9435,1)" font-family="'Liberation Sans', Arial, sans-serif" font-size="23.5" font-weight="normal" font-style="normal" fill="#000"><tspan font-style="italic">P</tspan> &lt; 5.9 <tspan font-size="19" dy="-1.2">×</tspan><tspan dy="1.2"> 10</tspan></text>
<text id="p59s" transform="translate(1195.50,72.78) rotate(-90) scale(0.9402,1)" font-family="'Liberation Sans', Arial, sans-serif" font-size="15" font-weight="normal" font-style="normal" fill="#000">−5</text>
<line x1="1748.30" y1="134.20" x2="1748.30" y2="460.90" stroke="#555" stroke-width="1.6" stroke-linecap="butt"/>
<line x1="1732.10" y1="134.20" x2="1748.30" y2="134.20" stroke="#555" stroke-width="1.6" stroke-linecap="butt"/>
<line x1="1732.10" y1="215.87" x2="1748.30" y2="215.87" stroke="#555" stroke-width="1.6" stroke-linecap="butt"/>
<line x1="1732.10" y1="297.55" x2="1748.30" y2="297.55" stroke="#555" stroke-width="1.6" stroke-linecap="butt"/>
<line x1="1732.10" y1="379.22" x2="1748.30" y2="379.22" stroke="#555" stroke-width="1.6" stroke-linecap="butt"/>
<line x1="1770.30" y1="460.90" x2="1770.30" y2="477.30" stroke="#555" stroke-width="1.6" stroke-linecap="butt"/>
<line x1="1822.58" y1="460.90" x2="1822.58" y2="477.30" stroke="#555" stroke-width="1.6" stroke-linecap="butt"/>
<line x1="1874.86" y1="460.90" x2="1874.86" y2="477.30" stroke="#555" stroke-width="1.6" stroke-linecap="butt"/>
<line x1="1927.14" y1="460.90" x2="1927.14" y2="477.30" stroke="#555" stroke-width="1.6" stroke-linecap="butt"/>
<line x1="1979.42" y1="460.90" x2="1979.42" y2="477.30" stroke="#555" stroke-width="1.6" stroke-linecap="butt"/>
<line x1="2031.70" y1="460.90" x2="2031.70" y2="477.30" stroke="#555" stroke-width="1.6" stroke-linecap="butt"/>
<line x1="2083.98" y1="460.90" x2="2083.98" y2="477.30" stroke="#555" stroke-width="1.6" stroke-linecap="butt"/>
<line x1="2136.26" y1="460.90" x2="2136.26" y2="477.30" stroke="#555" stroke-width="1.6" stroke-linecap="butt"/>
<text id="d80" transform="translate(1689.68,141.90) scale(1.2025,1)" font-family="'Liberation Sans', Arial, sans-serif" font-size="22.5" font-weight="normal" font-style="normal" fill="#000">80</text>
<text id="d60" transform="translate(1688.78,223.40) scale(1.2141,1)" font-family="'Liberation Sans', Arial, sans-serif" font-size="22.5" font-weight="normal" font-style="normal" fill="#000">60</text>
<text id="d40" transform="translate(1690.41,305.00) scale(1.1522,1)" font-family="'Liberation Sans', Arial, sans-serif" font-size="22.5" font-weight="normal" font-style="normal" fill="#000">40</text>
<text id="d20" transform="translate(1690.26,386.70) scale(1.1588,1)" font-family="'Liberation Sans', Arial, sans-serif" font-size="22.5" font-weight="normal" font-style="normal" fill="#000">20</text>
<text id="d0" transform="translate(1704.12,468.80) scale(1.2673,1)" font-family="'Liberation Sans', Arial, sans-serif" font-size="22.5" font-weight="normal" font-style="normal" fill="#000">0</text>
<text id="cd" transform="translate(1660.50,385.50) rotate(-90) scale(1.0013,1)" font-family="'Liberation Sans', Arial, sans-serif" font-size="28" font-weight="normal" font-style="normal" fill="#000">Cell death (%)</text>
<circle cx="1802.60" cy="61.00" r="5" fill="#d3d3d3"/>
<circle cx="1802.60" cy="91.90" r="5" fill="#7fc4fa"/>
<text id="dctl" transform="translate(1823.36,68.60) scale(1.0782,1)" font-family="'Liberation Sans', Arial, sans-serif" font-size="28" font-weight="normal" font-style="normal" fill="#000">Control</text>
<text id="dupp" transform="translate(1823.76,98.90) scale(0.8948,1)" font-family="'Liberation Sans', Arial, sans-serif" font-size="28" font-weight="normal" font-style="normal" fill="#000"><tspan font-style="italic">UPP1</tspan>-FLAG</text>
<rect x="1755.90" y="444.10" width="11.2" height="16.80" fill="#d4d4d4" stroke="#c4c4c4" stroke-width="1.4"/>
<circle cx="1758.50" cy="437.30" r="3.7" fill="#c4c4c4" fill-opacity="0.65"/>
<circle cx="1764.80" cy="442.40" r="3.7" fill="#c4c4c4" fill-opacity="0.65"/>
<circle cx="1758.50" cy="448.90" r="3.7" fill="#c4c4c4" fill-opacity="0.65"/>
<path d="M1757.70,440.10 H1765.30 M1761.50,440.10 V446.60 M1757.70,446.60 H1765.30" fill="none" stroke="#000" stroke-width="1.8"/>
<rect x="1775.50" y="439.40" width="11.2" height="21.50" fill="#84c7fa" stroke="#3aa7f8" stroke-width="1.4"/>
<circle cx="1781.10" cy="436.90" r="3.7" fill="#3aa6f8" fill-opacity="0.65"/>
<circle cx="1777.10" cy="439.60" r="3.7" fill="#3aa6f8" fill-opacity="0.65"/>
<circle cx="1784.90" cy="439.60" r="3.7" fill="#3aa6f8" fill-opacity="0.65"/>
<path d="M1777.30,437.80 H1784.90 M1781.10,437.80 V440.10 M1777.30,440.10 H1784.90" fill="none" stroke="#000" stroke-width="1.8"/>
<rect x="1808.18" y="445.00" width="11.2" height="15.90" fill="#d4d4d4" stroke="#c4c4c4" stroke-width="1.4"/>
<circle cx="1810.38" cy="437.80" r="3.7" fill="#c4c4c4" fill-opacity="0.65"/>
<circle cx="1816.88" cy="442.20" r="3.7" fill="#c4c4c4" fill-opacity="0.65"/>
<circle cx="1813.18" cy="452.60" r="3.7" fill="#c4c4c4" fill-opacity="0.65"/>
<path d="M1809.98,440.10 H1817.58 M1813.78,440.10 V448.90 M1809.98,448.90 H1817.58" fill="none" stroke="#000" stroke-width="1.8"/>
<rect x="1827.78" y="438.70" width="11.2" height="22.20" fill="#84c7fa" stroke="#3aa7f8" stroke-width="1.4"/>
<circle cx="1833.38" cy="435.90" r="3.7" fill="#3aa6f8" fill-opacity="0.65"/>
<circle cx="1830.08" cy="438.20" r="3.7" fill="#3aa6f8" fill-opacity="0.65"/>
<circle cx="1837.08" cy="438.20" r="3.7" fill="#3aa6f8" fill-opacity="0.65"/>
<path d="M1829.58,437.60 H1837.18 M1833.38,437.60 V439.60 M1829.58,439.60 H1837.18" fill="none" stroke="#000" stroke-width="1.8"/>
<rect x="1860.46" y="436.40" width="11.2" height="24.50" fill="#d4d4d4" stroke="#c4c4c4" stroke-width="1.4"/>
<circle cx="1865.76" cy="432.70" r="3.7" fill="#c4c4c4" fill-opacity="0.65"/>
<circle cx="1869.46" cy="434.30" r="3.7" fill="#c4c4c4" fill-opacity="0.65"/>
<circle cx="1863.06" cy="440.10" r="3.7" fill="#c4c4c4" fill-opacity="0.65"/>
<path d="M1862.26,433.60 H1869.86 M1866.06,433.60 V438.20 M1862.26,438.20 H1869.86" fill="none" stroke="#000" stroke-width="1.8"/>
<rect x="1880.06" y="425.90" width="11.2" height="35.00" fill="#84c7fa" stroke="#3aa7f8" stroke-width="1.4"/>
<circle cx="1882.46" cy="420.90" r="3.7" fill="#3aa6f8" fill-opacity="0.65"/>
<circle cx="1888.16" cy="420.90" r="3.7" fill="#3aa6f8" fill-opacity="0.65"/>
<circle cx="1885.26" cy="433.60" r="3.7" fill="#3aa6f8" fill-opacity="0.65"/>
<path d="M1881.86,422.00 H1889.46 M1885.66,422.00 V429.60 M1881.86,429.60 H1889.46" fill="none" stroke="#000" stroke-width="1.8"/>
<rect x="1912.74" y="437.10" width="11.2" height="23.80" fill="#d4d4d4" stroke="#c4c4c4" stroke-width="1.4"/>
<circle cx="1915.04" cy="431.10" r="3.7" fill="#c4c4c4" fill-opacity="0.65"/>
<circle cx="1921.64" cy="433.80" r="3.7" fill="#c4c4c4" fill-opacity="0.65"/>
<circle cx="1917.54" cy="445.20" r="3.7" fill="#c4c4c4" fill-opacity="0.65"/>
<path d="M1914.54,432.50 H1922.14 M1918.34,432.50 V440.90 M1914.54,440.90 H1922.14" fill="none" stroke="#000" stroke-width="1.8"/>
<rect x="1932.34" y="431.80" width="11.2" height="29.10" fill="#84c7fa" stroke="#3aa7f8" stroke-width="1.4"/>
<circle cx="1937.34" cy="424.00" r="3.7" fill="#3aa6f8" fill-opacity="0.65"/>
<circle cx="1934.84" cy="435.80" r="3.7" fill="#3aa6f8" fill-opacity="0.65"/>
<circle cx="1939.94" cy="435.30" r="3.7" fill="#3aa6f8" fill-opacity="0.65"/>
<path d="M1934.14,428.00 H1941.74 M1937.94,428.00 V435.00 M1934.14,435.00 H1941.74" fill="none" stroke="#000" stroke-width="1.8"/>
<rect x="1965.02" y="440.40" width="11.2" height="20.50" fill="#d4d4d4" stroke="#c4c4c4" stroke-width="1.4"/>
<circle cx="1970.22" cy="434.30" r="3.7" fill="#c4c4c4" fill-opacity="0.65"/>
<circle cx="1967.62" cy="443.90" r="3.7" fill="#c4c4c4" fill-opacity="0.65"/>
<circle cx="1973.72" cy="441.40" r="3.7" fill="#c4c4c4" fill-opacity="0.65"/>
<path d="M1966.82,437.30 H1974.42 M1970.62,437.30 V442.90 M1966.82,442.90 H1974.42" fill="none" stroke="#000" stroke-width="1.8"/>
<rect x="1984.62" y="429.00" width="11.2" height="31.90" fill="#84c7fa" stroke="#3aa7f8" stroke-width="1.4"/>
<circle cx="1989.52" cy="415.40" r="3.7" fill="#3aa6f8" fill-opacity="0.65"/>
<circle cx="1989.52" cy="431.30" r="3.7" fill="#3aa6f8" fill-opacity="0.65"/>
<circle cx="1989.52" cy="438.80" r="3.7" fill="#3aa6f8" fill-opacity="0.65"/>
<path d="M1986.42,421.20 H1994.02 M1990.22,421.20 V435.30 M1986.42,435.30 H1994.02" fill="none" stroke="#000" stroke-width="1.8"/>
<rect x="2017.30" y="438.50" width="11.2" height="22.40" fill="#d4d4d4" stroke="#c4c4c4" stroke-width="1.4"/>
<circle cx="2022.20" cy="430.30" r="3.7" fill="#c4c4c4" fill-opacity="0.65"/>
<circle cx="2020.20" cy="445.40" r="3.7" fill="#c4c4c4" fill-opacity="0.65"/>
<circle cx="2025.70" cy="438.80" r="3.7" fill="#c4c4c4" fill-opacity="0.65"/>
<path d="M2019.10,434.60 H2026.70 M2022.90,434.60 V442.90 M2019.10,442.90 H2026.70" fill="none" stroke="#000" stroke-width="1.8"/>
<rect x="2036.90" y="432.10" width="11.2" height="28.80" fill="#84c7fa" stroke="#3aa7f8" stroke-width="1.4"/>
<circle cx="2041.80" cy="424.70" r="3.7" fill="#3aa6f8" fill-opacity="0.65"/>
<circle cx="2039.20" cy="437.30" r="3.7" fill="#3aa6f8" fill-opacity="0.65"/>
<circle cx="2044.30" cy="433.80" r="3.7" fill="#3aa6f8" fill-opacity="0.65"/>
<path d="M2038.70,428.40 H2046.30 M2042.50,428.40 V435.50 M2038.70,435.50 H2046.30" fill="none" stroke="#000" stroke-width="1.8"/>
<rect x="2069.58" y="153.30" width="11.2" height="307.60" fill="#d4d4d4" stroke="#c4c4c4" stroke-width="1.4"/>
<circle cx="2072.18" cy="143.70" r="3.7" fill="#c4c4c4" fill-opacity="0.65"/>
<circle cx="2077.68" cy="143.70" r="3.7" fill="#c4c4c4" fill-opacity="0.65"/>
<circle cx="2074.98" cy="170.00" r="3.7" fill="#c4c4c4" fill-opacity="0.65"/>
<path d="M2071.38,143.70 H2078.98 M2075.18,143.70 V161.20 M2071.38,161.20 H2078.98" fill="none" stroke="#000" stroke-width="1.8"/>
<rect x="2089.18" y="160.80" width="11.2" height="300.10" fill="#84c7fa" stroke="#3aa7f8" stroke-width="1.4"/>
<circle cx="2094.18" cy="138.30" r="3.7" fill="#3aa6f8" fill-opacity="0.65"/>
<circle cx="2094.18" cy="153.70" r="3.7" fill="#3aa6f8" fill-opacity="0.65"/>
<circle cx="2094.18" cy="188.70" r="3.7" fill="#3aa6f8" fill-opacity="0.65"/>
<path d="M2090.98,145.80 H2098.58 M2094.78,145.80 V175.30 M2090.98,175.30 H2098.58" fill="none" stroke="#000" stroke-width="1.8"/>
<rect x="2121.86" y="169.70" width="11.2" height="291.20" fill="#d4d4d4" stroke="#c4c4c4" stroke-width="1.4"/>
<circle cx="2127.16" cy="156.30" r="3.7" fill="#c4c4c4" fill-opacity="0.65"/>
<circle cx="2127.16" cy="181.30" r="3.7" fill="#c4c4c4" fill-opacity="0.65"/>
<circle cx="2124.96" cy="172.00" r="3.7" fill="#c4c4c4" fill-opacity="0.65"/>
<path d="M2123.66,162.50 H2131.26 M2127.46,162.50 V176.70 M2123.66,176.70 H2131.26" fill="none" stroke="#000" stroke-width="1.8"/>
<rect x="2141.46" y="312.40" width="11.2" height="148.50" fill="#84c7fa" stroke="#3aa7f8" stroke-width="1.4"/>
<circle cx="2147.06" cy="309.00" r="3.7" fill="#3aa6f8" fill-opacity="0.65"/>
<circle cx="2144.56" cy="313.00" r="3.7" fill="#3aa6f8" fill-opacity="0.65"/>
<circle cx="2149.56" cy="313.00" r="3.7" fill="#3aa6f8" fill-opacity="0.65"/>
<path d="M2143.26,311.20 H2150.86 M2147.06,311.20 V313.60 M2143.26,313.60 H2150.86" fill="none" stroke="#000" stroke-width="1.8"/>
<line x1="1732.10" y1="460.90" x2="2160.30" y2="460.90" stroke="#000" stroke-width="2.0" stroke-linecap="butt"/>
<text id="p39" transform="translate(2160.10,286.36) rotate(-90) scale(0.9294,1)" font-family="'Liberation Sans', Arial, sans-serif" font-size="23.5" font-weight="normal" font-style="normal" fill="#000"><tspan font-style="italic">P</tspan> &lt; 3.9 <tspan font-size="19" dy="-1.2">×</tspan><tspan dy="1.2"> 10</tspan></text>
<text id="p39s" transform="translate(2147.80,169.01) rotate(-90) scale(0.9119,1)" font-family="'Liberation Sans', Arial, sans-serif" font-size="15" font-weight="normal" font-style="normal" fill="#000">−5</text>
<text id="u0" transform="translate(1751.22,511.70) scale(0.8798,1)" font-family="'Liberation Sans', Arial, sans-serif" font-size="28" font-weight="normal" font-style="normal" fill="#000">−U</text>
<text id="u1" transform="translate(1802.40,511.70) scale(0.9160,1)" font-family="'Liberation Sans', Arial, sans-serif" font-size="28" font-weight="normal" font-style="normal" fill="#000">+U</text>
<text id="u2" transform="translate(1856.63,511.70) scale(0.8862,1)" font-family="'Liberation Sans', Arial, sans-serif" font-size="28" font-weight="normal" font-style="normal" fill="#000">−U</text>
<text id="u3" transform="translate(1908.17,511.70) scale(0.9159,1)" font-family="'Liberation Sans', Arial, sans-serif" font-size="28" font-weight="normal" font-style="normal" fill="#000">+U</text>
<text id="u4" transform="translate(1961.96,511.70) scale(0.9257,1)" font-family="'Liberation Sans', Arial, sans-serif" font-size="28" font-weight="normal" font-style="normal" fill="#000">−U</text>
<text id="u5" transform="translate(2013.49,511.70) scale(0.9281,1)" font-family="'Liberation Sans', Arial, sans-serif" font-size="28" font-weight="normal" font-style="normal" fill="#000">+U</text>
<text id="u6" transform="translate(2066.81,511.70) scale(0.9281,1)" font-family="'Liberation Sans', Arial, sans-serif" font-size="28" font-weight="normal" font-style="normal" fill="#000">−U</text>
<text id="u7" transform="translate(2118.97,511.70) scale(0.9044,1)" font-family="'Liberation Sans', Arial, sans-serif" font-size="28" font-weight="normal" font-style="normal" fill="#000">+U</text>
<line x1="1749.60" y1="519.70" x2="1849.40" y2="519.70" stroke="#000" stroke-width="2.4" stroke-linecap="butt"/>
<line x1="1852.30" y1="519.70" x2="1952.10" y2="519.70" stroke="#000" stroke-width="2.4" stroke-linecap="butt"/>
<line x1="1955.80" y1="519.70" x2="2055.30" y2="519.70" stroke="#000" stroke-width="2.4" stroke-linecap="butt"/>
<line x1="2059.10" y1="519.70" x2="2158.50" y2="519.70" stroke="#000" stroke-width="2.4" stroke-linecap="butt"/>
<text id="dm1" transform="translate(1758.38,551.40) scale(0.9606,1)" font-family="'Liberation Sans', Arial, sans-serif" font-size="28" font-weight="normal" font-style="normal" fill="#000">DMSO</text>
<text id="aa1" transform="translate(1862.10,551.40) scale(1.0076,1)" font-family="'Liberation Sans', Arial, sans-serif" font-size="28" font-weight="normal" font-style="normal" fill="#000">Anti. A</text>
<text id="dm2" transform="translate(1964.76,551.40) scale(0.9658,1)" font-family="'Liberation Sans', Arial, sans-serif" font-size="28" font-weight="normal" font-style="normal" fill="#000">DMSO</text>
<text id="aa2" transform="translate(2067.67,551.40) scale(1.0128,1)" font-family="'Liberation Sans', Arial, sans-serif" font-size="28" font-weight="normal" font-style="normal" fill="#000">Anti. A</text>
<line x1="1749.60" y1="555.40" x2="1951.80" y2="555.40" stroke="#000" stroke-width="2.4" stroke-linecap="butt"/>
<line x1="1958.30" y1="555.40" x2="2160.90" y2="555.40" stroke="#000" stroke-width="2.4" stroke-linecap="butt"/>
<text id="glc" transform="translate(1802.44,592.70) scale(1.0261,1)" font-family="'Liberation Sans', Arial, sans-serif" font-size="28" font-weight="normal" font-style="normal" fill="#000">Glucose</text>
<text id="gal" transform="translate(1998.37,592.70) scale(1.0115,1)" font-family="'Liberation Sans', Arial, sans-serif" font-size="28" font-weight="normal" font-style="normal" fill="#000">Galactose</text>
</svg></body></html>
